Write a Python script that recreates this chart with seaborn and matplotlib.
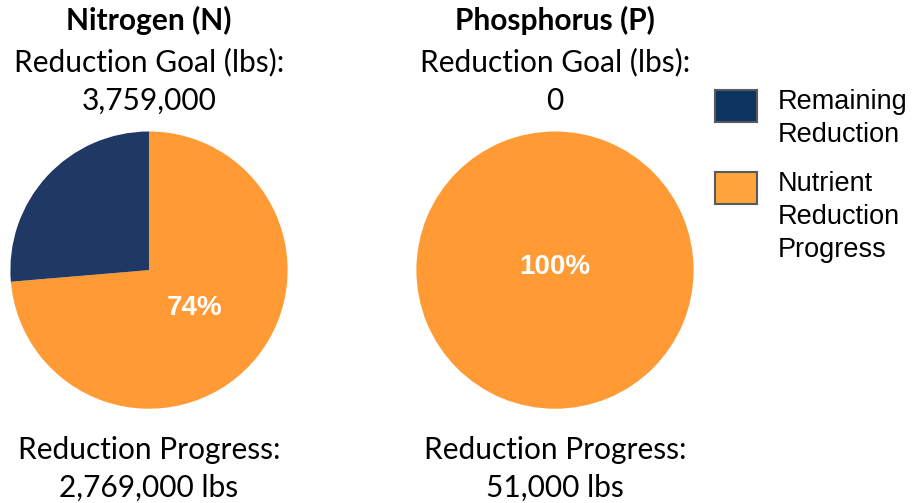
import matplotlib.pyplot as plt
import seaborn as sns
from matplotlib.patches import Rectangle

sns.set_theme(style="white")
plt.rcParams['font.family'] = ['Lato', 'DejaVu Sans']

# Data
nutrients = ['Nitrogen (N)', 'Phosphorus (P)']
goals = ['3,759,000', '0']
progress_lbs = [2769000, 51000]
remaining_lbs = [990000, 0]
progress_labels = ['2,769,000 lbs', '51,000 lbs']
pct_labels = ['74%', '100%']
categories = ['Remaining\nReduction', 'Nutrient\nReduction\nProgress']

pie_colors = ['#FF9A35', '#203864']      # progress, remaining
legend_colors = ['#0B3461', '#FFA53C']   # remaining, progress

fig = plt.figure(figsize=(9.24, 5.03), dpi=100)

centers = [149 / 924, 555 / 924]
pct_pos = [(0.33, -0.27), (0.0, 0.02)]
txt_size = 21.5

for i, name in enumerate(nutrients):
    cx = centers[i]
    ax = fig.add_axes([cx - 140 / 924, 0.463 - 140 / 503, 280 / 924, 280 / 503])
    ax.pie([progress_lbs[i], remaining_lbs[i]], colors=pie_colors,
           startangle=90, counterclock=False, radius=1,
           wedgeprops={'linewidth': 0})
    ax.set_xlim(-1.01, 1.01)
    ax.set_ylim(-1.01, 1.01)
    ax.set_aspect('equal')
    ax.axis('off')
    ax.text(pct_pos[i][0], pct_pos[i][1], pct_labels[i], color='white',
            fontsize=20, fontweight='bold', family=['Liberation Sans'],
            ha='center', va='center')

    fig.text(cx, 0.960, name, ha='center', va='center', fontsize=txt_size,
             fontweight='bold', color='black')
    fig.text(cx, 0.877, 'Reduction Goal (lbs):', ha='center', va='center',
             fontsize=txt_size, color='black')
    fig.text(cx, 0.799, goals[i], ha='center', va='center',
             fontsize=txt_size, color='black')
    fig.text(cx, 0.105, 'Reduction Progress:', ha='center', va='center',
             fontsize=txt_size, color='black')
    fig.text(cx, 0.030, progress_labels[i], ha='center', va='center',
             fontsize=txt_size, color='black')

# Legend
box_tops = [90, 172]
for j, lab in enumerate(categories):
    top = box_tops[j]
    fig.patches.append(Rectangle((715 / 924, 1 - (top + 32) / 503), 42 / 924, 32 / 503,
                                 transform=fig.transFigure, facecolor=legend_colors[j],
                                 edgecolor='#595959', linewidth=1.5))
    fig.text(778 / 924, 1 - (top - 1) / 503, lab, ha='left', va='top',
             fontsize=19.5, family=['Liberation Sans'], color='black',
             linespacing=1.35)

fig.savefig('out.png', dpi=100)
